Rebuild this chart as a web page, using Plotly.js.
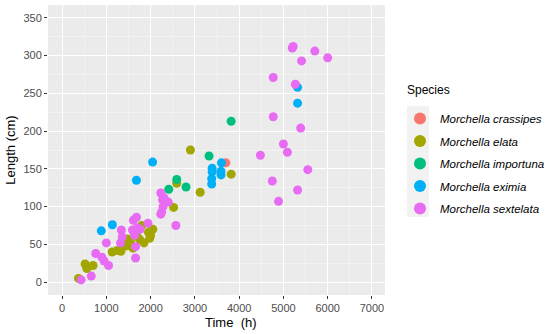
<!DOCTYPE html>
<html><head><meta charset="utf-8">
<script src="https://cdn.plot.ly/plotly-3.0.1.min.js"></script>
<style>html,body{margin:0;padding:0;background:#fff}#chart{width:550px;height:334px}</style>
</head><body><div id="chart"></div>
<script>
const speciesNames = ["Morchella crassipes","Morchella elata","Morchella importuna","Morchella eximia","Morchella sextelata"];
const speciesColors = ["#F8766D","#A3A500","#00BF7D","#00B0F6","#E76BF3"];

const crassipesTime = [3700];
const crassipesLength = [158];

const elataTime = [370, 520, 560, 700, 1130, 1250, 1330, 1450, 1480, 1550, 1600, 1700, 1760, 1800, 1850, 1950, 1980, 2000, 2050, 2520, 2590, 2900, 3120, 3820];
const elataLength = [5, 24, 18, 22, 40, 42, 41, 48, 57, 52, 45, 60, 56, 75, 52, 66, 58, 62, 70, 99, 131, 175, 119, 143];

const importunaTime = [2410, 2590, 2800, 3320, 3820];
const importunaLength = [123, 136, 126, 167, 213];

const eximiaTime = [886, 1136, 1680, 2045, 3380, 3380, 3390, 3390, 3590, 3590, 3600, 5320, 5320];
const eximiaLength = [68, 76, 135, 159, 130, 137, 146, 151, 142, 147, 158, 237, 258];

const sextelataTime = [430, 660, 760, 900, 950, 1000, 1050, 1320, 1340, 1360, 1590, 1610, 1680, 1640, 1660, 1660, 1700, 1760, 1940, 2230, 2270, 2400, 2280, 2250, 2230, 2570, 2300,
  4480, 4750, 4770, 4770, 4890, 5000, 5090, 5200, 5220, 5270, 5320, 5390, 5410, 5550, 5710, 6000];
const sextelataLength = [3, 8, 38, 33, 28, 52, 22, 52, 69, 60, 69, 82, 86, 62, 47, 32, 72, 70, 78, 118, 109, 106, 100, 93, 90, 75, 112,
  168, 134, 219, 271, 107, 183, 172, 310, 312, 262, 122, 204, 293, 149, 306, 297];

const xTickVals = [0,1000,2000,3000,4000,5000,6000,7000];
const yTickVals = [0,50,100,150,200,250,300,350];

const series = [
  [crassipesTime, crassipesLength],
  [elataTime, elataLength],
  [importunaTime, importunaLength],
  [eximiaTime, eximiaLength],
  [sextelataTime, sextelataLength]
];

const traces = series.map((s, i) => ({
  type: 'scatter', mode: 'markers',
  x: s[0], y: s[1],
  name: '<i>' + speciesNames[i] + '</i>',
  legendgroup: 'g' + i,
  marker: {color: speciesColors[i], size: 9, line: {width: 0}},
  hoverinfo: 'x+y+name'
}));

const font = "'Liberation Sans', Arial, sans-serif";
const L = 48, R = 385, T = 5, B = 295;
const px2x = p => (p - L) / (R - L);
const px2y = p => (B - p) / (B - T);

const layout = {
  width: 550, height: 334,
  margin: {l: L, r: 550 - R, t: T, b: 334 - B, autoexpand: false},
  paper_bgcolor: '#fff', plot_bgcolor: '#EBEBEB',
  font: {family: font, color: '#000'},
  showlegend: true,
  xaxis: {
    range: [-318, 7295], tickvals: xTickVals, ticktext: xTickVals.map(String),
    showgrid: true, gridcolor: '#fff', gridwidth: 1.1, zeroline: false,
    ticks: 'outside', ticklen: 3, tickcolor: '#333', tickwidth: 1,
    tickfont: {family: font, size: 11, color: '#4D4D4D'},
    minor: {dtick: 500, tick0: 500, showgrid: true, gridcolor: '#F7F7F7', gridwidth: 0.6, ticks: ''},
    showline: false
  },
  yaxis: {
    range: [-17, 367], tickvals: yTickVals, ticktext: yTickVals.map(String),
    showgrid: true, gridcolor: '#fff', gridwidth: 1.1, zeroline: false,
    ticks: 'outside', ticklen: 3, tickcolor: '#333', tickwidth: 1,
    tickfont: {family: font, size: 11, color: '#4D4D4D'},
    minor: {dtick: 25, tick0: 25, showgrid: true, gridcolor: '#F7F7F7', gridwidth: 0.6, ticks: ''},
    title: {text: 'Length (cm)', font: {family: font, size: 13, color: '#000'}, standoff: 4},
    showline: false
  },
  legend: {
    x: px2x(400), xanchor: 'left', y: px2y(104), yanchor: 'top',
    bgcolor: 'rgba(0,0,0,0)',
    font: {family: font, size: 11.5, color: '#000'},
    tracegroupgap: 3.5,
    itemsizing: 'constant'
  },
  shapes: [{
    type: 'rect', xref: 'paper', yref: 'paper', layer: 'below',
    x0: px2x(407), x1: px2x(429), y0: px2y(106), y1: px2y(217),
    fillcolor: '#F2F2F2', line: {width: 0}
  }],
  annotations: [{
    text: 'Time\u00a0\u00a0(h)', xref: 'paper', yref: 'paper',
    x: px2x(231), y: px2y(322), xanchor: 'center', yanchor: 'middle',
    showarrow: false, font: {family: font, size: 13, color: '#000'}
  }, {
    text: 'Species', xref: 'paper', yref: 'paper',
    x: px2x(405), y: px2y(90), xanchor: 'left', yanchor: 'middle',
    showarrow: false, font: {family: font, size: 12, color: '#000'}
  }]
};

Plotly.newPlot('chart', traces, layout, {staticPlot: true, displayModeBar: false});
</script></body></html>
